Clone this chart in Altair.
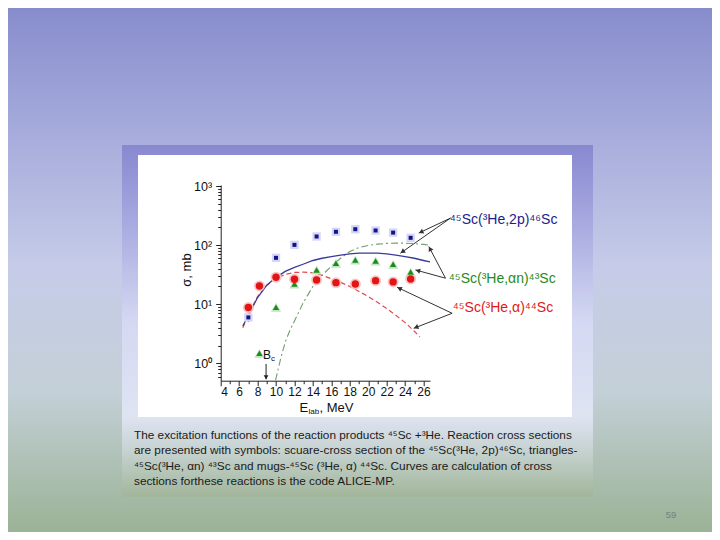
import math
import altair as alt
import pandas as pd

# ---------------- data ----------------
E_2p = [7.0, 10.0, 12.0, 14.4, 16.5, 18.6, 20.8, 22.7, 24.6]
sig_2p = [6.0, 61.0, 101.0, 140.0, 168.0, 186.0, 177.0, 163.0, 133.0]
err_2p = [1.0, 9.0, 10.0, 0.0, 0.0, 0.0, 0.0, 0.0, 0.0]

E_a = [7.0, 8.2, 10.0, 12.0, 14.4, 16.5, 18.6, 20.8, 22.7, 24.6]
sig_a = [8.8, 20.4, 28.7, 26.5, 25.8, 23.2, 22.0, 25.1, 23.9, 26.8]

E_an = [8.2, 10.0, 12.0, 14.4, 16.5, 18.6, 20.8, 22.7, 24.6]
sig_an = [1.48, 8.9, 22.0, 38.0, 49.5, 56.0, 54.0, 47.6, 35.0]

# ALICE-MP calculations
Ec_2p = [6.4, 7, 8, 9, 10, 11, 12, 13, 14, 15, 16, 17, 18, 19, 20, 21, 22, 23, 24, 25, 26, 26.7]
sc_2p = [4.3, 6.5, 13, 21, 28.5, 36, 42, 48, 55, 60, 64, 68, 71, 73, 73.5, 73, 71, 68, 64, 60, 55, 52]

Ec_a = [6.4, 7, 8, 9, 10, 11, 12, 13, 14, 15, 16, 17, 18, 19, 20, 21, 22, 23, 24, 25, 25.6]
sc_a = [4.0, 6.8, 13.5, 21, 27.5, 32, 34.5, 35, 34, 31, 27, 23.5, 20, 16.5, 13.5, 10.8, 8.5, 6.5, 4.9, 3.5, 2.8]

Ec_an = [9.95, 10.5, 11, 11.5, 12, 13, 14, 15, 16, 17, 18, 19, 20, 21, 22, 23, 24, 25, 26, 26.6]
sc_an = [0.52, 1.2, 2.3, 3.6, 5.2, 11, 20, 31, 44, 60, 78, 91, 99, 104, 107, 108, 108, 106, 103, 100]

# reaction labels
lab_text = ["⁴⁵Sc(³He,2p)⁴⁶Sc", "⁴⁵Sc(³He,αn)⁴³Sc", "⁴⁵Sc(³He,α)⁴⁴Sc"]
lab_E = [28.85, 28.74, 29.17]
lab_s = [268.0, 26.8, 8.76]
lab_col = ["#1c1c8c", "#1f8a1f", "#e01818"]

# annotation arrows (start -> tip) in data units
arr_E0 = [28.93, 28.93, 28.38, 28.38, 29.1, 29.1]
arr_s0 = [287.0, 287.0, 27.6, 27.6, 7.04, 7.04]
arr_E1 = [25.48, 23.49, 25.12, 26.57, 23.13, 24.93]
arr_s1 = [160.0, 73.0, 38.1, 94.7, 19.4, 3.92]

x_minor = list(range(4, 27))
y_major = [1, 10, 100, 1000]
y_minor = [0.6, 0.7, 0.8, 0.9] + [m * d for d in (1, 10, 100) for m in range(2, 10)]

caption = [
    "The excitation functions of the reaction products ⁴⁵Sc +³He. Reaction cross sections",
    "are presented with symbols: scuare-cross section of the ⁴⁵Sc(³He, 2p)⁴⁶Sc, triangles-",
    "⁴⁵Sc(³He, αn) ⁴³Sc and mugs-⁴⁵Sc (³He, α) ⁴⁴Sc. Curves are calculation of cross",
    "sections forthese reactions is the code ALICE-MP.",
]

# ---------------- layout ----------------
PL, PT = 212.7, 177.0
W, H = 209.3, 195.7
TOTW, TOTH = 704, 524
PR = TOTW - PL - W
PB = TOTH - PT - H
OX, OY = 8 + PL, 8 + PT  # page position of plot origin
XD = [4, 26.7]
YD = [0.51, 1040]


def px(x):
    return x - OX


def py(y):
    return y - OY


FONT = "Liberation Sans"

xs = alt.Scale(domain=XD, nice=False, zero=False)
ys = alt.Scale(type="log", domain=YD, nice=False)

x_axis = alt.Axis(
    values=x_minor, title=None, grid=False, zindex=2,
    labelExpr="datum.value % 2 === 0 ? datum.label : ''",
    labelFont=FONT, labelFontSize=12, labelColor="#111", labelPadding=1,
    labelOverlap=False, domainColor="#222", tickColor="#222",
    tickSize={"condition": {"test": "datum.value % 2 === 0", "value": 5}, "value": 3},
)
y_axis = alt.Axis(
    values=y_major + y_minor, title=None, grid=False, zindex=2,
    labelExpr="datum.value == 1 ? '10⁰' : datum.value == 10 ? '10¹' : datum.value == 100 ? '10²' : datum.value == 1000 ? '10³' : ''",
    labelFont=FONT, labelFontSize=12.5, labelColor="#111", labelPadding=4,
    labelOverlap=False, domainColor="#222", tickColor="#222",
    tickSize={"condition": {"test": "indexof([1,10,100,1000], datum.value) >= 0", "value": 5}, "value": 3},
)


def X(field):
    return alt.X(field, type="quantitative", scale=xs, axis=x_axis)


def Y(field):
    return alt.Y(field, type="quantitative", scale=ys, axis=y_axis)


def grad(stops):
    return alt.Gradient(
        gradient="linear", x1=0, x2=0, y1=0, y2=1,
        stops=[alt.GradientStop(color=c, offset=o) for o, c in stops],
    )


layers = []

# page background
layers.append(
    alt.Chart(pd.DataFrame({"a": [0]})).mark_rect(
        fill=grad([(0, "#858bcb"), (0.25, "#a7acdc"), (0.5, "#c6cce8"), (0.72, "#c4d0d8"), (1, "#98b192")])
    ).encode(x=alt.value(px(0)), x2=alt.value(px(720)), y=alt.value(py(0)), y2=alt.value(py(540)))
)
# slide box
layers.append(
    alt.Chart(pd.DataFrame({"a": [0]})).mark_rect(
        fill=grad([(0, "#8888d0"), (0.2, "#a4a6de"), (0.5, "#d4d8f2"), (0.77, "#dfe4f2"), (0.86, "#c8d4d4"), (1, "#a2b69a")])
    ).encode(x=alt.value(px(122)), x2=alt.value(px(593)), y=alt.value(py(145)), y2=alt.value(py(497)))
)
# white figure area
layers.append(
    alt.Chart(pd.DataFrame({"a": [0]})).mark_rect(fill="#ffffff").encode(
        x=alt.value(px(138)), x2=alt.value(px(572)), y=alt.value(py(155)), y2=alt.value(py(417))
    )
)
# caption
layers.append(
    alt.Chart(pd.DataFrame({"a": [0]})).mark_text(
        align="left", baseline="middle", font=FONT, fontSize=11.8, color="#1a1a1a",
        lineBreak="\n", lineHeight=15.3,
    ).encode(x=alt.value(px(134)), y=alt.value(py(435)), text=alt.value("\n".join(caption)))
)
# page number
layers.append(
    alt.Chart(pd.DataFrame({"a": [0]})).mark_text(
        align="center", baseline="middle", font=FONT, fontSize=9.5, color="#74847c"
    ).encode(x=alt.value(px(671)), y=alt.value(py(515)), text=alt.value("59"))
)

# ---- chart contents ----
d2p = pd.DataFrame({"E": E_2p, "s": sig_2p, "lo": [v - e for v, e in zip(sig_2p, err_2p)],
                    "hi": [v + e for v, e in zip(sig_2p, err_2p)]})
da = pd.DataFrame({"E": E_a, "s": sig_a})
dan = pd.DataFrame({"E": E_an, "s": sig_an})

# curves
layers.append(alt.Chart(pd.DataFrame({"E": Ec_an, "s": sc_an})).mark_line(
    color="#6f9e6f", strokeWidth=1.1, strokeDash=[7, 3, 2, 3]).encode(x=X("E"), y=Y("s")))
layers.append(alt.Chart(pd.DataFrame({"E": Ec_a, "s": sc_a})).mark_line(
    color="#e24a4a", strokeWidth=1.2, strokeDash=[5, 3]).encode(x=X("E"), y=Y("s")))
layers.append(alt.Chart(pd.DataFrame({"E": Ec_2p, "s": sc_2p})).mark_line(
    color="#3a3a9a", strokeWidth=1.3).encode(x=X("E"), y=Y("s")))

# error bars (2p)
layers.append(alt.Chart(d2p[d2p["hi"] > d2p["lo"]]).mark_rule(color="#5555aa", strokeWidth=1).encode(
    x=X("E"), y=Y("lo"), y2="hi"))

# halos
layers.append(alt.Chart(dan).mark_point(shape="triangle-up", filled=True, size=105, color="#bde6bd", opacity=1)
              .encode(x=X("E"), y=Y("s")))
layers.append(alt.Chart(da).mark_point(shape="circle", filled=True, size=120, color="#f8c4c4", opacity=1)
              .encode(x=X("E"), y=Y("s")))
layers.append(alt.Chart(d2p).mark_point(shape="square", filled=True, size=70, color="#d6d6f6", opacity=1)
              .encode(x=X("E"), y=Y("s")))
# symbols
layers.append(alt.Chart(dan).mark_point(shape="triangle-up", filled=True, size=40, color="#1d8a1d", opacity=1)
              .encode(x=X("E"), y=Y("s")))
layers.append(alt.Chart(da).mark_point(shape="circle", filled=True, size=55, color="#e21414", opacity=1)
              .encode(x=X("E"), y=Y("s")))
layers.append(alt.Chart(d2p).mark_point(shape="square", filled=True, size=16, color="#14148a", opacity=1)
              .encode(x=X("E"), y=Y("s")))

# reaction labels
dl = pd.DataFrame({"E": lab_E, "s": lab_s, "t": lab_text, "c": lab_col})
layers.append(alt.Chart(dl).mark_text(align="left", baseline="middle", font=FONT, fontSize=14).encode(
    x=X("E"), y=Y("s"), text="t:N", color=alt.Color("c:N", scale=None)))


# arrows
def to_px(E, s):
    xx = (E - XD[0]) / (XD[1] - XD[0]) * W
    yy = H * (1 - (math.log10(s) - math.log10(YD[0])) / (math.log10(YD[1]) - math.log10(YD[0])))
    return xx, yy


def from_px(xx, yy):
    E = XD[0] + xx / W * (XD[1] - XD[0])
    lg = math.log10(YD[0]) + (1 - yy / H) * (math.log10(YD[1]) - math.log10(YD[0]))
    return E, 10 ** lg


heads = []
for e0, s0, e1, s1 in zip(arr_E0, arr_s0, arr_E1, arr_s1):
    x0, y0 = to_px(e0, s0)
    x1, y1 = to_px(e1, s1)
    dx, dy = x1 - x0, y1 - y0
    L = math.hypot(dx, dy)
    ang = math.degrees(math.atan2(dx, -dy)) % 360
    hx, hy = x1 - dx / L * 2.5, y1 - dy / L * 2.5
    he, hs = from_px(hx, hy)
    heads.append({"E": he, "s": hs, "ang": ang})

darr = pd.DataFrame({"E": arr_E0, "s": arr_s0, "E2": arr_E1, "s2": arr_s1})
layers.append(alt.Chart(darr).mark_rule(color="#333333", strokeWidth=1).encode(
    x=X("E"), y=Y("s"), x2="E2", y2="s2"))
layers.append(alt.Chart(pd.DataFrame(heads)).mark_point(shape="triangle-up", filled=True, size=28, color="#333333", opacity=1)
              .encode(x=X("E"), y=Y("s"), angle=alt.Angle("ang:Q", scale=None)))

# B_c marker
dbc = pd.DataFrame({"E": [8.92], "s": [0.98], "E2": [8.92], "s2": [0.54]})
layers.append(alt.Chart(dbc).mark_rule(color="#222", strokeWidth=1).encode(x=X("E"), y=Y("s"), y2="s2"))
layers.append(alt.Chart(pd.DataFrame({"E": [8.92], "s": [0.58]})).mark_point(
    shape="triangle-down", filled=True, size=22, color="#222", opacity=1).encode(x=X("E"), y=Y("s")))
layers.append(alt.Chart(pd.DataFrame({"a": [0]})).mark_text(
    align="left", baseline="middle", font=FONT, fontSize=12, color="#111").encode(
    x=alt.value(px(263)), y=alt.value(py(355)), text=alt.value("B")))
layers.append(alt.Chart(pd.DataFrame({"a": [0]})).mark_text(
    align="left", baseline="middle", font=FONT, fontSize=8, color="#111").encode(
    x=alt.value(px(271)), y=alt.value(py(359)), text=alt.value("c")))

# axis titles
layers.append(alt.Chart(pd.DataFrame({"a": [0]})).mark_text(
    align="center", baseline="middle", font=FONT, fontSize=13, color="#111", angle=270).encode(
    x=alt.value(px(187)), y=alt.value(py(270)), text=alt.value("σ, mb")))
layers.append(alt.Chart(pd.DataFrame({"a": [0]})).mark_text(
    align="left", baseline="middle", font=FONT, fontSize=13, color="#111").encode(
    x=alt.value(px(299.5)), y=alt.value(py(408)), text=alt.value("E")))
layers.append(alt.Chart(pd.DataFrame({"a": [0]})).mark_text(
    align="left", baseline="middle", font=FONT, fontSize=8, color="#111").encode(
    x=alt.value(px(308.5)), y=alt.value(py(412)), text=alt.value("lab")))
layers.append(alt.Chart(pd.DataFrame({"a": [0]})).mark_text(
    align="left", baseline="middle", font=FONT, fontSize=13, color="#111").encode(
    x=alt.value(px(319.5)), y=alt.value(py(408)), text=alt.value(", MeV")))

chart = alt.layer(*layers).properties(
    width=W, height=H,
    autosize=alt.AutoSizeParams(type="none"),
    padding={"left": PL, "top": PT, "right": PR, "bottom": PB},
    background="#ffffff",
).configure_view(stroke=None)

chart.save("out.html", embed_options={"renderer": "svg", "actions": False})
